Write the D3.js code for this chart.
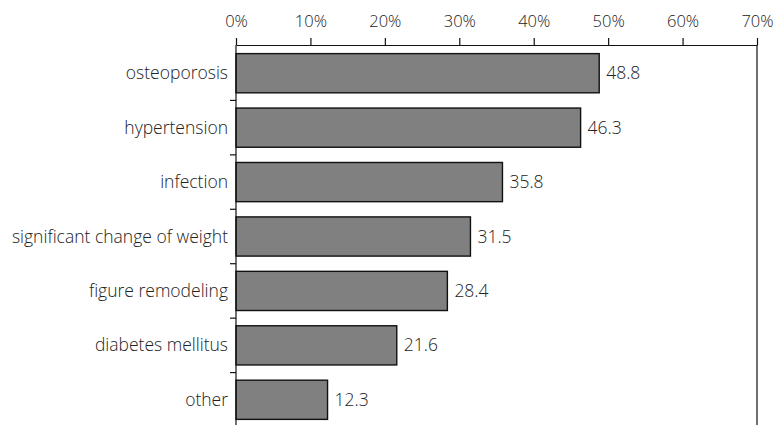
<!DOCTYPE html>
<html>
<head>
<meta charset="utf-8">
<script src="https://cdn.jsdelivr.net/npm/d3@7"></script>
<style>
  html, body { margin: 0; padding: 0; background: #fff; }
  svg { display: block; }
  text { font-family: "Open Sans", sans-serif; font-weight: 300; fill: #222; }
</style>
</head>
<body>
<div id="chart"></div>
<script>
// Complications reported, share of respondents (%)
const categories = [
  "osteoporosis",
  "hypertension",
  "infection",
  "significant change of weight",
  "figure remodeling",
  "diabetes mellitus",
  "other"
];
const values = [48.8, 46.3, 35.8, 31.5, 28.4, 21.6, 12.3];
const tickValues = [0, 10, 20, 30, 40, 50, 60, 70];

const width = 775, height = 425;
const margin = { top: 45, right: 18, bottom: -2, left: 236 };
const labelSize = "17.5px";
const tickSize = "16.5px";

const svg = d3.select("#chart").append("svg")
  .attr("width", width)
  .attr("height", height);

const x = d3.scaleLinear()
  .domain([0, 70])
  .range([margin.left, width - margin.right]);

const y = d3.scaleBand()
  .domain(categories)
  .range([margin.top + 1, height - margin.bottom])
  .paddingInner(0.28)
  .paddingOuter(0.14);

const data = categories.map((c, i) => ({ cat: c, val: values[i] }));

// bars
svg.append("g")
  .selectAll("rect")
  .data(data)
  .join("rect")
  .attr("x", x(0))
  .attr("y", d => y(d.cat))
  .attr("width", d => x(d.val) - x(0))
  .attr("height", y.bandwidth())
  .attr("fill", "#808080")
  .attr("stroke", "#111")
  .attr("stroke-width", 1.4);

// value labels
svg.append("g")
  .selectAll("text")
  .data(data)
  .join("text")
  .attr("x", d => x(d.val) + 7)
  .attr("y", d => y(d.cat) + y.bandwidth() / 2)
  .attr("dy", "0.35em")
  .style("font-size", labelSize)
  .text(d => d.val.toFixed(1));

// top axis
const xAxis = d3.axisTop(x)
  .tickValues(tickValues)
  .tickFormat(d => d + "%")
  .tickSizeInner(7)
  .tickSizeOuter(0)
  .tickPadding(11);

const gx = svg.append("g")
  .attr("transform", `translate(0,${margin.top})`)
  .call(xAxis);
gx.select(".domain").attr("stroke", "#111").attr("stroke-width", 1.2);
gx.selectAll(".tick line").attr("stroke", "#111").attr("stroke-width", 1.2);
gx.selectAll(".tick text")
  .style("font-size", tickSize)
  .style("font-family", "'Open Sans', sans-serif")
  .style("font-weight", 300)
  .attr("fill", "#222");

// left axis: line, boundary ticks, category labels
const gy = svg.append("g");
gy.append("line")
  .attr("x1", x(0)).attr("x2", x(0))
  .attr("y1", margin.top).attr("y2", height)
  .attr("stroke", "#111").attr("stroke-width", 1.2);

const step = y.step();
const boundaries = categories.slice(1).map(c => y(c) - (step - y.bandwidth()) / 2);
gy.selectAll("line.tick")
  .data(boundaries)
  .join("line")
  .attr("class", "tick")
  .attr("x1", x(0) - 6).attr("x2", x(0))
  .attr("y1", d => d).attr("y2", d => d)
  .attr("stroke", "#111").attr("stroke-width", 1.2);

gy.selectAll("text")
  .data(categories)
  .join("text")
  .attr("x", x(0) - 8)
  .attr("y", d => y(d) + y.bandwidth() / 2)
  .attr("dy", "0.35em")
  .attr("text-anchor", "end")
  .style("font-size", labelSize)
  .text(d => d);

// right frame line
svg.append("line")
  .attr("x1", x(70)).attr("x2", x(70))
  .attr("y1", margin.top).attr("y2", height)
  .attr("stroke", "#111").attr("stroke-width", 1.2);
</script>
</body>
</html>
